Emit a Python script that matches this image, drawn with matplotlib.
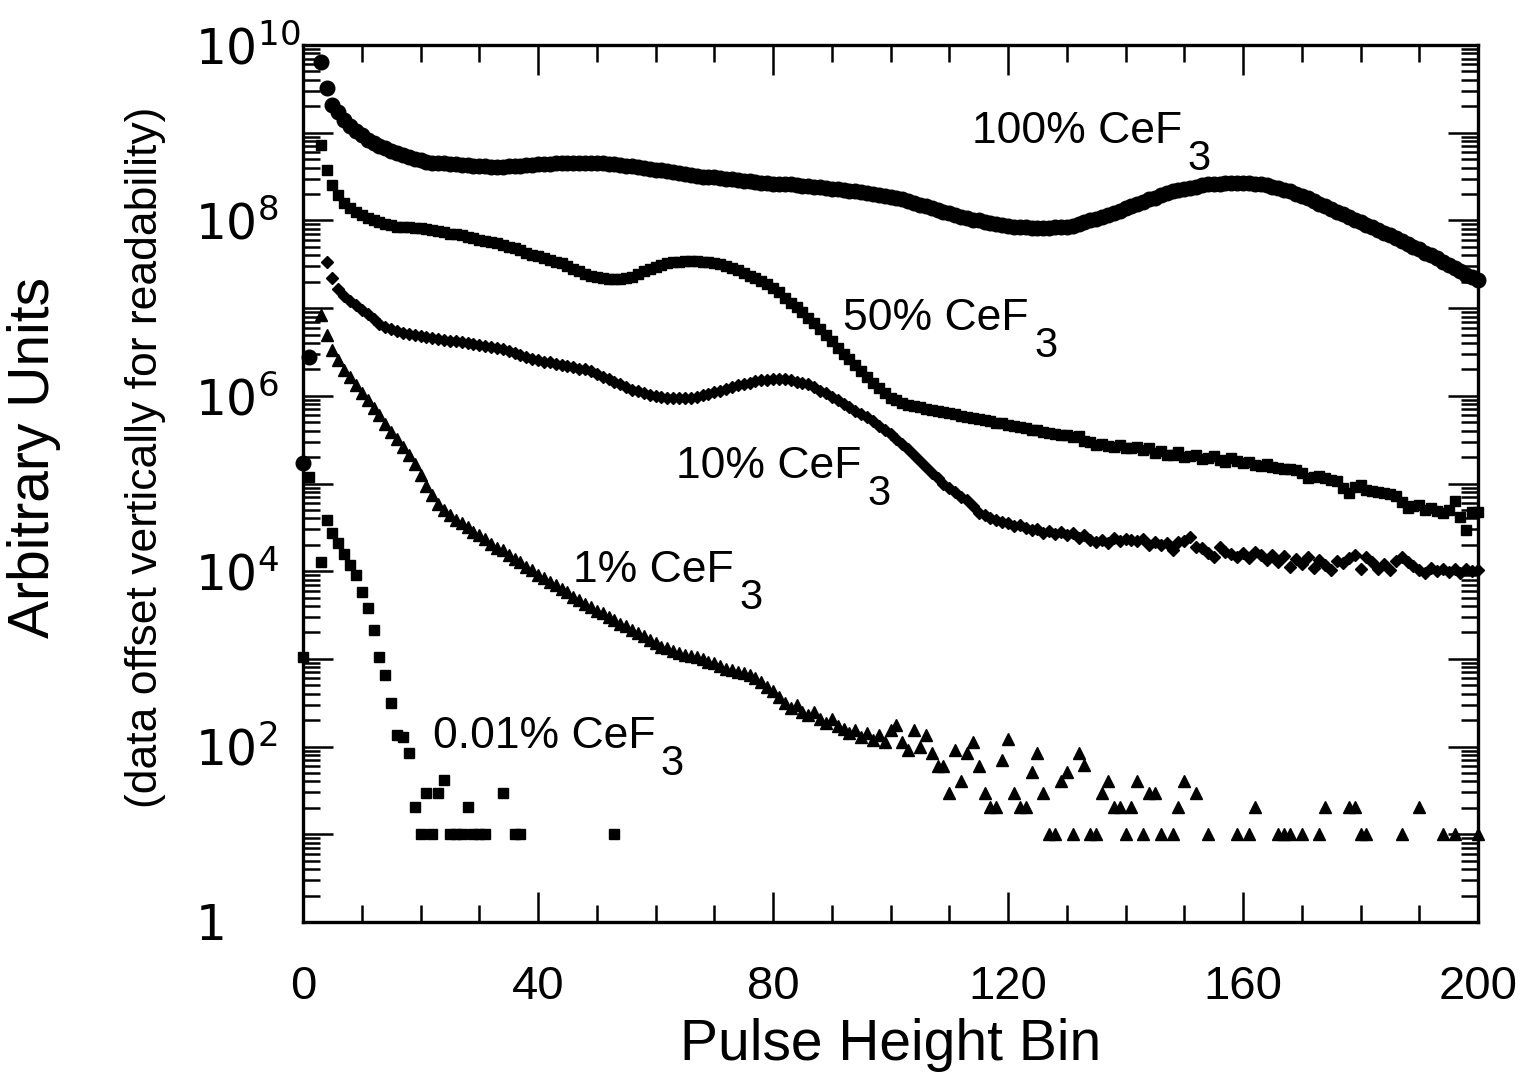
import numpy as np
import matplotlib
matplotlib.use('Agg')
import matplotlib.pyplot as plt
from matplotlib.ticker import FixedLocator, NullFormatter, LogLocator, MultipleLocator

plt.rcParams['font.family'] = ['Liberation Sans', 'DejaVu Sans']
plt.rcParams['mathtext.fontset'] = 'dejavusans'

nan = float('nan')

# ---- data: log10(counts, arbitrary units) per pulse-height bin 0..200 ----
bins = np.arange(201)

log10_100pct = [
    5.23, 6.44, nan, 9.81, 9.51, 9.32, 9.24, 9.15, 9.08, 9.02,
    8.97, 8.92, 8.88, 8.85, 8.82, 8.79, 8.77, 8.75, 8.72, 8.70,
    8.69, 8.67, 8.66, 8.66, 8.65, 8.64, 8.64, 8.63, 8.63, 8.62,
    8.62, 8.62, 8.61, 8.61, 8.61, 8.62, 8.62, 8.62, 8.63, 8.63,
    8.64, 8.64, 8.64, 8.65, 8.65, 8.65, 8.66, 8.66, 8.66, 8.65,
    8.65, 8.65, 8.64, 8.64, 8.63, 8.62, 8.62, 8.61, 8.60, 8.59,
    8.58, 8.57, 8.56, 8.55, 8.54, 8.53, 8.52, 8.51, 8.50, 8.50,
    8.49, 8.48, 8.47, 8.47, 8.46, 8.45, 8.45, 8.44, 8.43, 8.43,
    8.42, 8.42, 8.41, 8.41, 8.40, 8.39, 8.39, 8.38, 8.38, 8.37,
    8.36, 8.36, 8.35, 8.34, 8.33, 8.32, 8.31, 8.30, 8.29, 8.28,
    8.27, 8.25, 8.24, 8.22, 8.20, 8.18, 8.16, 8.14, 8.12, 8.10,
    8.08, 8.06, 8.04, 8.03, 8.01, 8.00, 7.98, 7.97, 7.96, 7.95,
    7.94, 7.93, 7.92, 7.92, 7.91, 7.91, 7.91, 7.91, 7.92, 7.92,
    7.93, 7.94, 7.96, 7.98, 8.00, 8.02, 8.04, 8.06, 8.09, 8.11,
    8.14, 8.16, 8.19, 8.21, 8.24, 8.26, 8.29, 8.31, 8.33, 8.35,
    8.36, 8.37, 8.38, 8.40, 8.41, 8.42, 8.42, 8.43, 8.43, 8.43,
    8.43, 8.43, 8.42, 8.41, 8.40, 8.38, 8.37, 8.35, 8.33, 8.30,
    8.28, 8.25, 8.22, 8.19, 8.16, 8.13, 8.10, 8.07, 8.04, 8.01,
    7.98, 7.95, 7.92, 7.89, 7.86, 7.83, 7.80, 7.77, 7.73, 7.70,
    7.67, 7.63, 7.60, 7.57, 7.53, 7.49, 7.46, 7.42, 7.38, 7.35,
    7.32]

log10_50pct = [
    nan, nan, nan, 8.86, 8.57, 8.40, 8.29, 8.20, 8.14, 8.10,
    8.06, 8.03, 8.00, 7.98, 7.96, 7.95, 7.93, 7.92, 7.92, 7.91,
    7.91, 7.90, 7.89, 7.88, 7.87, 7.85, 7.84, 7.83, 7.81, 7.80,
    7.78, 7.77, 7.75, 7.74, 7.72, 7.70, 7.68, 7.66, 7.63, 7.61,
    7.59, 7.57, 7.55, 7.53, 7.51, 7.48, 7.45, 7.42, 7.39, 7.37,
    7.35, 7.34, 7.33, 7.33, 7.33, 7.34, 7.36, 7.39, 7.42, 7.45,
    7.47, 7.49, 7.51, 7.52, 7.53, 7.54, 7.54, 7.54, 7.53, 7.52,
    7.51, 7.50, 7.48, 7.46, 7.43, 7.40, 7.37, 7.34, 7.31, 7.28,
    7.23, 7.18, 7.12, 7.06, 7.01, 6.95, 6.89, 6.83, 6.76, 6.69,
    6.62, 6.55, 6.48, 6.42, 6.35, 6.28, 6.21, 6.15, 6.09, 6.03,
    5.98, 5.95, 5.92, 5.90, 5.88, 5.87, 5.85, 5.84, 5.83, 5.81,
    5.80, 5.79, 5.77, 5.76, 5.75, 5.73, 5.72, 5.71, 5.69, 5.69,
    5.67, 5.66, 5.64, 5.63, 5.61, 5.61, 5.59, 5.58, 5.57, 5.55,
    5.55, 5.53, 5.54, 5.49, 5.47, 5.44, 5.45, 5.43, 5.42, 5.44,
    5.40, 5.40, 5.42, 5.38, 5.40, 5.35, 5.37, 5.32, 5.33, 5.36,
    5.30, 5.31, 5.33, 5.28, 5.29, 5.31, 5.27, 5.25, 5.29, 5.26,
    5.23, 5.24, 5.21, 5.20, 5.22, 5.19, 5.18, 5.16, 5.17, 5.15,
    5.12, 5.06, 5.07, 5.09, 5.06, 5.04, 5.03, 4.95, 4.89, 4.96,
    4.98, 4.93, 4.91, 4.90, 4.89, 4.88, 4.86, 4.79, 4.72, 4.74,
    4.76, 4.70, 4.72, 4.69, 4.66, 4.70, 4.80, 4.62, 4.47, 4.67,
    4.67]

log10_10pct = [
    nan, nan, nan, nan, 7.53, 7.34, 7.22, 7.14, 7.08, 7.03,
    6.98, 6.93, 6.88, 6.82, 6.79, 6.76, 6.74, 6.72, 6.70, 6.69,
    6.68, 6.67, 6.66, 6.65, 6.64, 6.63, 6.62, 6.61, 6.60, 6.59,
    6.58, 6.57, 6.56, 6.55, 6.53, 6.51, 6.49, 6.46, 6.44, 6.42,
    6.41, 6.39, 6.38, 6.36, 6.35, 6.34, 6.33, 6.31, 6.30, 6.28,
    6.25, 6.22, 6.19, 6.16, 6.13, 6.10, 6.07, 6.05, 6.03, 6.01,
    6.00, 5.99, 5.98, 5.98, 5.97, 5.98, 5.98, 5.99, 6.01, 6.02,
    6.04, 6.06, 6.08, 6.10, 6.12, 6.14, 6.15, 6.17, 6.18, 6.18,
    6.19, 6.19, 6.19, 6.18, 6.16, 6.15, 6.13, 6.10, 6.06, 6.03,
    5.99, 5.95, 5.91, 5.87, 5.83, 5.79, 5.76, 5.71, 5.66, 5.61,
    5.56, 5.51, 5.45, 5.39, 5.33, 5.26, 5.19, 5.12, 5.06, 5.00,
    4.95, 4.90, 4.85, 4.81, 4.74, 4.66, 4.64, 4.61, 4.58, 4.56,
    4.55, 4.51, 4.53, 4.49, 4.47, 4.48, 4.44, 4.46, 4.42, 4.45,
    4.41, 4.43, 4.38, 4.41, 4.36, 4.33, 4.36, 4.32, 4.38, 4.35,
    4.37, 4.36, 4.34, 4.37, 4.30, 4.33, 4.30, 4.32, 4.24, 4.33,
    4.35, 4.39, 4.28, 4.26, 4.21, 4.16, 4.28, 4.22, 4.20, 4.16,
    4.21, 4.15, 4.22, 4.18, 4.13, 4.19, 4.10, 4.17, 4.05, 4.14,
    4.08, 4.16, 4.04, 4.13, 4.07, 4.01, 4.12, 4.09, 4.15, 4.18,
    4.03, 4.16, 4.10, 4.02, 4.08, 4.01, 4.12, 4.16, 4.10, 4.06,
    4.01, 3.98, 4.04, 4.00, 4.02, 3.99, 4.03, 3.98, 4.02, 4.00,
    4.01]

log10_1pct = [
    nan, nan, nan, 6.92, 6.69, 6.52, 6.41, 6.29, 6.21, 6.12,
    6.03, 5.95, 5.86, 5.78, 5.68, 5.59, 5.51, 5.42, 5.32, 5.22,
    5.10, 4.97, 4.87, 4.77, 4.70, 4.64, 4.58, 4.55, 4.50, 4.45,
    4.41, 4.37, 4.31, 4.27, 4.24, 4.19, 4.14, 4.10, 4.05, 4.01,
    3.96, 3.92, 3.88, 3.84, 3.80, 3.76, 3.71, 3.67, 3.63, 3.59,
    3.55, 3.52, 3.48, 3.44, 3.40, 3.37, 3.33, 3.30, 3.26, 3.22,
    3.18, 3.14, 3.12, 3.09, 3.07, 3.05, 3.03, 3.02, 3.00, 2.97,
    2.95, 2.92, 2.89, 2.87, 2.85, 2.84, 2.82, 2.78, 2.74, 2.68,
    2.63, 2.56, 2.50, 2.44, 2.47, 2.40, 2.36, 2.40, 2.32, 2.27,
    2.31, 2.24, 2.20, 2.15, 2.19, 2.11, 2.16, 2.08, 2.13, 2.05,
    2.19, 2.25, 2.05, 1.96, 2.19, 2.00, 2.13, 1.93, 1.78, 1.78,
    1.47, 1.96, 1.61, 1.93, 2.05, 1.78, 1.47, 1.31, 1.31, 1.85,
    2.09, 1.47, 1.31, 1.31, 1.71, 1.93, 1.47, 1.00, 1.00, 1.61,
    1.71, 1.00, 1.93, 1.79, 1.00, 1.00, 1.47, 1.61, 1.31, 1.31,
    1.00, 1.31, 1.61, 1.00, 1.47, 1.47, 1.00, nan, 1.00, 1.31,
    1.61, nan, 1.47, nan, 1.00, nan, nan, nan, nan, 1.00,
    nan, 1.00, 1.31, nan, nan, nan, 1.00, 1.00, 1.00, nan,
    1.00, nan, nan, 1.00, 1.31, nan, nan, nan, 1.31, 1.31,
    1.00, 1.00, nan, nan, nan, nan, nan, 1.00, nan, nan,
    1.31, nan, nan, nan, 1.00, nan, 1.00, nan, nan, nan,
    1.00]

# 0.01% : only bins with non-zero counts
bins_001pct = [0, 1, 3, 4, 5, 6, 7, 8, 9, 10, 11, 12, 13, 14, 15, 16, 17, 18, 19,
               20, 21, 22, 23, 24, 25, 26, 27, 28, 29, 30, 31, 34, 36, 37, 53]
log10_001pct = [3.02, 5.07, 4.10, 4.58, 4.43, 4.32, 4.20, 4.07, 3.96, 3.76, 3.58,
                3.33, 3.02, 2.82, 2.50, 2.13, 2.11, 1.93, 1.31,
                1.00, 1.47, 1.00, 1.47, 1.62, 1.00, 1.00, 1.00, 1.31, 1.00, 1.00,
                1.00, 1.47, 1.00, 1.00, 1.00]

series_labels = ['100% CeF', '50% CeF', '10% CeF', '1% CeF', '0.01% CeF']
label_x = [113.9, 91.9, 63.5, 46.0, 22.1]
label_y = [10**8.88, 10**6.75, 10**5.06, 10**3.88, 10**1.98]

ytick_exp = list(range(0, 11))
ytick_labels = ['$1$' if k == 0 else ('$10^{%d}$' % k if k % 2 == 0 else '') for k in ytick_exp]

# ---- figure ----
fig = plt.figure(figsize=(15.22, 10.91), dpi=100)
ax = fig.add_axes([303 / 1522, 1 - 922 / 1091, 1175 / 1522, 877 / 1091])
ax.set_yscale('log')
ax.set_xlim(0, 200)
ax.set_ylim(1, 1e10)

common = dict(color='black', linestyle='none', clip_on=False,
              markeredgewidth=1.0, markeredgecolor='black')
ax.plot(bins, np.power(10.0, log10_100pct), marker='o', ms=10.5, **common)
ax.plot(bins, np.power(10.0, log10_50pct), marker='s', ms=7.2, **common)
ax.plot(bins, np.power(10.0, log10_10pct), marker='D', ms=5.8, **common)
ax.plot(bins, np.power(10.0, log10_1pct), marker='^', ms=8.0, **common)
ax.plot(bins_001pct, np.power(10.0, log10_001pct), marker='s', ms=6.8, **common)

# ticks
ax.xaxis.set_major_locator(MultipleLocator(40))
ax.xaxis.set_minor_locator(MultipleLocator(10))
ax.yaxis.set_major_locator(FixedLocator([10.0 ** k for k in ytick_exp]))
ax.yaxis.set_minor_locator(LogLocator(base=10, subs=np.arange(2, 10), numticks=100))
ax.yaxis.set_minor_formatter(NullFormatter())
ax.set_yticklabels(ytick_labels)

ax.tick_params(which='both', direction='in', top=True, right=True, width=1.8, color='black')
ax.tick_params(which='major', length=21.5)
ax.tick_params(which='minor', length=12)
ax.tick_params(axis='x', which='major', labelsize=34, pad=31)
ax.tick_params(axis='y', which='major', labelsize=35, pad=78)
for lab in ax.get_yticklabels():
    lab.set_horizontalalignment('left')

for sp in ax.spines.values():
    sp.set_linewidth(2.4)

# series labels with large, lowered "3"
for txt, x, y in zip(series_labels, label_x, label_y):
    t = ax.text(x, y, txt, fontsize=32, ha='left', va='baseline')
    ax.annotate('3', xy=(1, 0), xycoords=t, xytext=(4, -13),
                textcoords='offset points', fontsize=30, ha='left', va='baseline')

# axis labels
ax.set_xlabel('Pulse Height Bin', fontsize=41)
ax.xaxis.label.set_va('baseline')
ax.xaxis.set_label_coords(0.5, (922 - 1060) / 877)

ax.set_ylabel('Arbitrary Units', fontsize=41)
ax.yaxis.label.set_va('center')
ax.yaxis.set_label_coords((34 - 303) / 1175, (922 - 457) / 877)

fig.text(146 / 1522, 1 - 457 / 1091, '(data offset vertically for readability)',
         rotation=90, fontsize=32, ha='center', va='center')

fig.savefig('out.png', dpi=100)
